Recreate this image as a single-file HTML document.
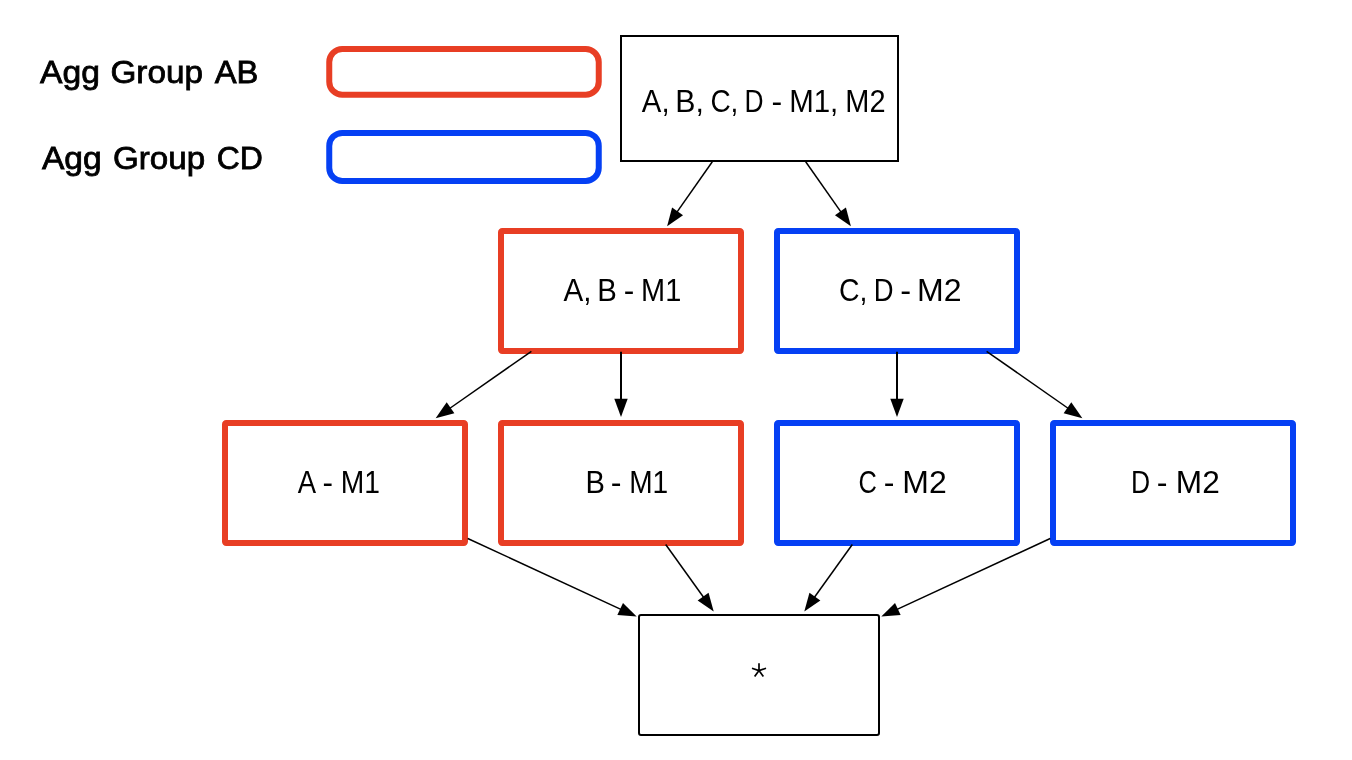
<!DOCTYPE html>
<html>
<head>
<meta charset="utf-8">
<title>Aggregation groups</title>
<style>
html,body{margin:0;padding:0;background:#ffffff;}
body{width:1352px;height:760px;overflow:hidden;font-family:"Liberation Sans",sans-serif;}
svg{display:block;will-change:transform;}
text{font-family:"Liberation Sans",sans-serif;fill:#000;}
</style>
</head>
<body>
<svg width="1352" height="760" viewBox="0 0 1352 760">
<rect x="0" y="0" width="1352" height="760" fill="#ffffff"/>
<!-- legend swatches -->
<rect x="329.25" y="49" width="269.5" height="45.75" rx="13" ry="13" fill="none" stroke="#e83e24" stroke-width="6"/>
<rect x="329.25" y="132.9" width="269.5" height="48.1" rx="13" ry="13" fill="none" stroke="#0540f4" stroke-width="6"/>

<!-- top box -->
<rect x="621" y="36" width="277" height="125" fill="#ffffff" stroke="#000" stroke-width="2"/>
<!-- row 2 -->
<rect x="501" y="231" width="240" height="120" rx="1.2" fill="none" stroke="#e83e24" stroke-width="6"/>
<rect x="777" y="231" width="240" height="120" rx="1.2" fill="none" stroke="#0540f4" stroke-width="6"/>
<!-- row 3 -->
<rect x="225" y="423" width="240" height="120" rx="1.2" fill="none" stroke="#e83e24" stroke-width="6"/>
<rect x="501" y="423" width="240" height="120" rx="1.2" fill="none" stroke="#e83e24" stroke-width="6"/>
<rect x="777" y="423" width="240" height="120" rx="1.2" fill="none" stroke="#0540f4" stroke-width="6"/>
<rect x="1053" y="423" width="240" height="120" rx="1.2" fill="none" stroke="#0540f4" stroke-width="6"/>
<!-- bottom box -->
<rect x="639" y="615" width="240" height="120" rx="2" fill="none" stroke="#000" stroke-width="2"/>
<!-- arrows -->
<line x1="712.30" y1="161.80" x2="676.42" y2="212.92" stroke="#000" stroke-width="1.5"/><polygon points="667.11,226.18 672.08,207.44 683.05,215.13" fill="#000"/>
<line x1="805.70" y1="161.80" x2="841.58" y2="212.92" stroke="#000" stroke-width="1.5"/><polygon points="850.89,226.18 834.95,215.13 845.92,207.44" fill="#000"/>
<line x1="531.40" y1="351.30" x2="448.89" y2="409.00" stroke="#000" stroke-width="1.5"/><polygon points="435.62,418.29 446.69,402.37 454.37,413.35" fill="#000"/>
<line x1="621.00" y1="351.80" x2="621.00" y2="400.70" stroke="#000" stroke-width="2"/><polygon points="621.00,416.90 614.30,398.70 627.70,398.70" fill="#000"/>
<line x1="897.00" y1="351.80" x2="897.00" y2="400.70" stroke="#000" stroke-width="2"/><polygon points="897.00,416.90 890.30,398.70 903.70,398.70" fill="#000"/>
<line x1="986.60" y1="351.30" x2="1069.11" y2="409.00" stroke="#000" stroke-width="1.5"/><polygon points="1082.38,418.29 1063.63,413.35 1071.31,402.37" fill="#000"/>
<line x1="467.75" y1="538.50" x2="621.98" y2="609.81" stroke="#000" stroke-width="1.5"/><polygon points="636.69,616.60 617.36,615.05 622.98,602.88" fill="#000"/>
<line x1="665.70" y1="544.50" x2="704.26" y2="598.31" stroke="#000" stroke-width="1.5"/><polygon points="713.70,611.48 697.65,600.58 708.54,592.78" fill="#000"/>
<line x1="852.30" y1="544.50" x2="813.74" y2="598.31" stroke="#000" stroke-width="1.5"/><polygon points="804.30,611.48 809.46,592.78 820.35,600.58" fill="#000"/>
<line x1="1050.25" y1="538.50" x2="896.02" y2="609.81" stroke="#000" stroke-width="1.5"/><polygon points="881.31,616.60 895.02,602.88 900.64,615.05" fill="#000"/>
<!-- labels -->
<text x="40.11" y="83.40" font-size="32" textLength="59.91" lengthAdjust="spacingAndGlyphs" stroke="#000" stroke-width="0.8">Agg</text>
<text x="110.42" y="83.40" font-size="32" textLength="92.53" lengthAdjust="spacingAndGlyphs" stroke="#000" stroke-width="0.8">Group</text>
<text x="214.76" y="83.40" font-size="32" textLength="43.70" lengthAdjust="spacingAndGlyphs" stroke="#000" stroke-width="0.8">AB</text>
<text x="41.92" y="169.30" font-size="32" textLength="59.71" lengthAdjust="spacingAndGlyphs" stroke="#000" stroke-width="0.8">Agg</text>
<text x="113.02" y="169.30" font-size="32" textLength="92.18" lengthAdjust="spacingAndGlyphs" stroke="#000" stroke-width="0.8">Group</text>
<text x="216.64" y="169.30" font-size="32" textLength="46.12" lengthAdjust="spacingAndGlyphs" stroke="#000" stroke-width="0.8">CD</text>
<text x="641.82" y="112.40" font-size="32" textLength="27.73" lengthAdjust="spacingAndGlyphs">A,</text>
<text x="675.26" y="112.40" font-size="32" textLength="28.58" lengthAdjust="spacingAndGlyphs">B,</text>
<text x="710.39" y="112.40" font-size="32" textLength="28.00" lengthAdjust="spacingAndGlyphs">C,</text>
<text x="744.60" y="112.40" font-size="32" textLength="19.04" lengthAdjust="spacingAndGlyphs">D</text>
<text x="771.62" y="112.40" font-size="32" textLength="10.69" lengthAdjust="spacingAndGlyphs">-</text>
<text x="789.17" y="112.40" font-size="32" textLength="49.10" lengthAdjust="spacingAndGlyphs">M1,</text>
<text x="845.30" y="112.40" font-size="32" textLength="40.19" lengthAdjust="spacingAndGlyphs">M2</text>
<text x="563.57" y="301.10" font-size="32" textLength="27.96" lengthAdjust="spacingAndGlyphs">A,</text>
<text x="597.37" y="301.10" font-size="32" textLength="19.58" lengthAdjust="spacingAndGlyphs">B</text>
<text x="623.68" y="301.10" font-size="32" textLength="10.52" lengthAdjust="spacingAndGlyphs">-</text>
<text x="641.11" y="301.10" font-size="32" textLength="40.22" lengthAdjust="spacingAndGlyphs">M1</text>
<text x="839.06" y="301.10" font-size="32" textLength="28.43" lengthAdjust="spacingAndGlyphs">C,</text>
<text x="873.64" y="301.10" font-size="32" textLength="19.79" lengthAdjust="spacingAndGlyphs">D</text>
<text x="900.28" y="301.10" font-size="32" textLength="10.85" lengthAdjust="spacingAndGlyphs">-</text>
<text x="917.10" y="301.10" font-size="32" textLength="44.56" lengthAdjust="spacingAndGlyphs">M2</text>
<text x="297.85" y="493.00" font-size="32" textLength="18.34" lengthAdjust="spacingAndGlyphs">A</text>
<text x="322.46" y="493.00" font-size="32" textLength="10.50" lengthAdjust="spacingAndGlyphs">-</text>
<text x="340.65" y="493.00" font-size="32" textLength="39.24" lengthAdjust="spacingAndGlyphs">M1</text>
<text x="585.42" y="493.00" font-size="32" textLength="19.43" lengthAdjust="spacingAndGlyphs">B</text>
<text x="610.69" y="493.00" font-size="32" textLength="10.74" lengthAdjust="spacingAndGlyphs">-</text>
<text x="629.22" y="493.00" font-size="32" textLength="39.03" lengthAdjust="spacingAndGlyphs">M1</text>
<text x="858.58" y="493.00" font-size="32" textLength="18.34" lengthAdjust="spacingAndGlyphs">C</text>
<text x="883.65" y="493.00" font-size="32" textLength="10.66" lengthAdjust="spacingAndGlyphs">-</text>
<text x="902.37" y="493.00" font-size="32" textLength="44.42" lengthAdjust="spacingAndGlyphs">M2</text>
<text x="1130.92" y="493.00" font-size="32" textLength="19.12" lengthAdjust="spacingAndGlyphs">D</text>
<text x="1156.69" y="493.00" font-size="32" textLength="10.74" lengthAdjust="spacingAndGlyphs">-</text>
<text x="1175.81" y="493.00" font-size="32" textLength="43.94" lengthAdjust="spacingAndGlyphs">M2</text>
<path d="M759.00,670.60 L759.00,663.20 M759.00,670.60 L766.04,668.31 M759.00,670.60 L763.35,676.59 M759.00,670.60 L754.65,676.59 M759.00,670.60 L751.96,668.31" fill="none" stroke="#000" stroke-width="1.7"/>
</svg>
</body>
</html>
